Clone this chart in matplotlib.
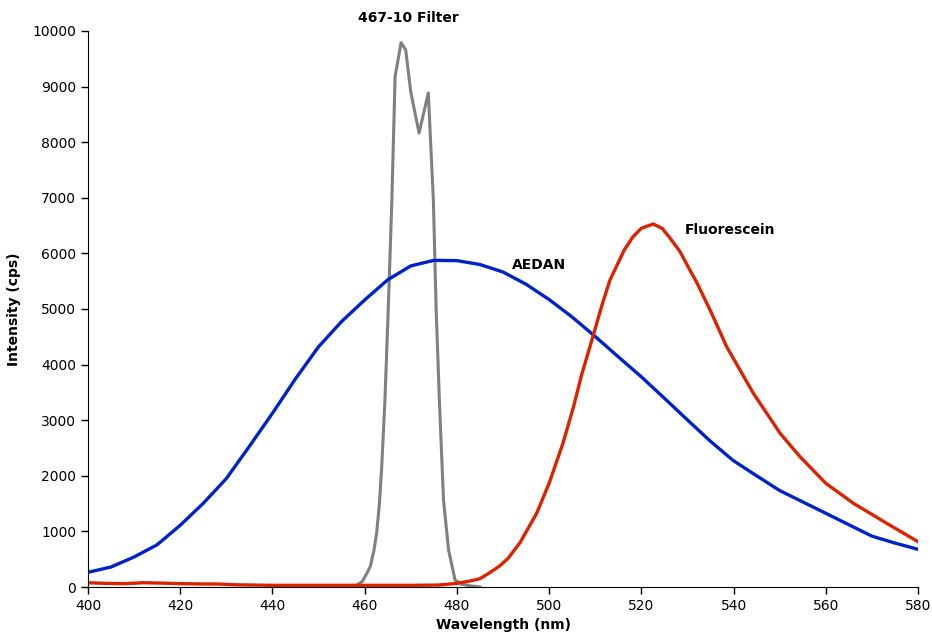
import matplotlib.pyplot as plt

# AEDAN emission
aedan_x = [400, 405, 410, 415, 420, 425, 430, 435, 440, 445, 450, 455, 460, 465,
           470, 475, 480, 485, 490, 495, 500, 505, 510, 515, 520, 525, 530, 535,
           540, 545, 550, 555, 560, 565, 570, 575, 580]
aedan_y = [264, 360, 540, 760, 1110, 1505, 1950, 2530, 3124, 3745, 4320, 4775,
           5162, 5525, 5775, 5875, 5870, 5800, 5665, 5445, 5170, 4855, 4505,
           4140, 3780, 3395, 3005, 2620, 2270, 2000, 1735, 1530, 1326, 1120,
           915, 790, 678]

# Fluorescein emission
fluor_x = [400, 404, 408, 412, 416, 420, 424, 428, 432, 440, 450, 460, 470,
           476, 480, 483, 485, 487, 489.3, 491.1, 493.7, 497.3, 500, 503, 505.3,
           507, 509.6, 511.5, 513.2, 516.3, 518.2, 520, 522.6, 524.5, 526,
           528.4, 530, 532, 535, 538.5, 541, 544.3, 550.1, 554.4, 560, 566,
           573.2, 580]
fluor_y = [77, 65, 60, 77, 70, 60, 55, 54, 40, 30, 30, 30, 30, 35, 66, 110,
           150, 250, 380, 515, 800, 1326, 1865, 2584, 3243, 3800, 4532, 5080,
           5521, 6061, 6300, 6451, 6529, 6450, 6300, 6030, 5780, 5480, 4966,
           4322, 3960, 3483, 2764, 2344, 1865, 1505, 1146, 815]

# 467-10 filter transmission
filt_x = [440, 455, 458, 459.5, 460.5, 461.2, 462, 462.6, 463.2, 463.7, 464.4,
          465.2, 465.9, 466.6, 467.9, 468.9, 470, 471.8, 473.8, 474.9, 475.5,
          476.2, 477.1, 478.2, 479.6, 481, 483, 485]
filt_y = [0, 0, 20, 100, 250, 365, 650, 970, 1500, 2164, 3363, 5200, 6960, 9180,
          9790, 9660, 8900, 8165, 8885, 6960, 5000, 3363, 1565, 665, 126, 50,
          20, 0]

plt.rcParams['font.family'] = 'DejaVu Sans'
fig = plt.figure(figsize=(9.32, 6.4), dpi=100)
ax = fig.add_axes([0.0944, 0.0828, 0.8906, 0.8688])

ax.plot(filt_x, filt_y, color='#808080', linewidth=2.2)
ax.plot(aedan_x, aedan_y, color='#0022cc', linewidth=2.4)
ax.plot(fluor_x, fluor_y, color='#dd2200', linewidth=2.4)

ax.set_xlim(400, 580)
ax.set_ylim(0, 10000)
ax.set_xticks(range(400, 581, 20))
ax.set_yticks(range(0, 10001, 1000))
ax.tick_params(direction='out', length=5, width=1, labelsize=10, colors='black')
for side in ['top', 'right']:
    ax.spines[side].set_visible(False)

ax.set_xlabel('Wavelength (nm)', fontsize=10, fontweight='bold', labelpad=4)
ax.set_ylabel('Intensity (cps)', fontsize=10, fontweight='bold', labelpad=8)

ax.text(469.4, 10234, '467-10 Filter', fontsize=10, fontweight='bold',
        ha='center', va='center', clip_on=False)
ax.text(492, 5791, 'AEDAN', fontsize=10, fontweight='bold', ha='left', va='center')
ax.text(529.5, 6421, 'Fluorescein', fontsize=10, fontweight='bold', ha='left', va='center')

fig.savefig('out.png', dpi=100)
